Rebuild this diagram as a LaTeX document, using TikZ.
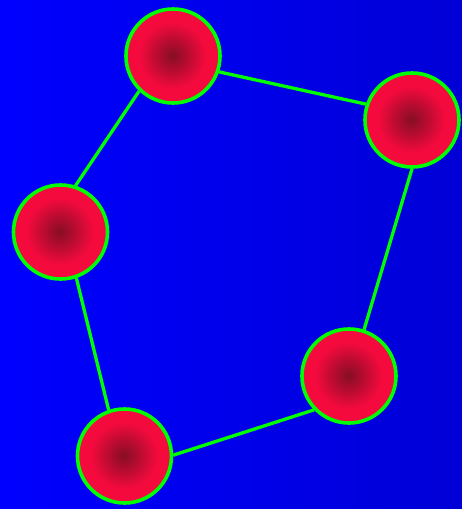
\documentclass[tikz,border=0pt]{standalone}
\definecolor{bgleft}{RGB}{0,0,255}
\definecolor{bgright}{RGB}{0,0,214}
\definecolor{ballout}{RGB}{245,10,62}
\definecolor{ballin}{RGB}{132,14,36}
\definecolor{rim}{RGB}{0,255,0}
\begin{document}
\begin{tikzpicture}[x=1pt,y=-1pt]
\tikzset{
  ball/.style={circle,minimum size=94pt,inner sep=0pt,draw=rim,line width=3.6pt,
    path picture={
      \fill[ballout] (path picture bounding box.center) circle (50pt);
      \foreach \k in {0,...,32}{
        \pgfmathsetmacro\rr{34*(1-\k/33)}
        \pgfmathsetmacro\pp{100*\k/33}
        \fill[ballin!\pp!ballout] (path picture bounding box.center) circle (\rr pt);
      }
    }},
  link/.style={draw=rim,line width=3.3pt}
}
\shade[left color=bgleft,right color=bgright] (0,0) rectangle (462,509);
\useasboundingbox (0,0) rectangle (462,509);
\node[ball] (a) at (173,56) {};
\node[ball] (b) at (412,120) {};
\node[ball] (c) at (60.5,232) {};
\node[ball] (d) at (349,376) {};
\node[ball] (e) at (124.5,456) {};
\draw[link] (a.-19) -- (b.161);
\draw[link] (a.226) -- (c.72);
\draw[link] (c.-71) -- (e.109);
\draw[link] (e.1) -- (d.224);
\draw[link] (d.72) -- (b.270);
\end{tikzpicture}
\end{document}
